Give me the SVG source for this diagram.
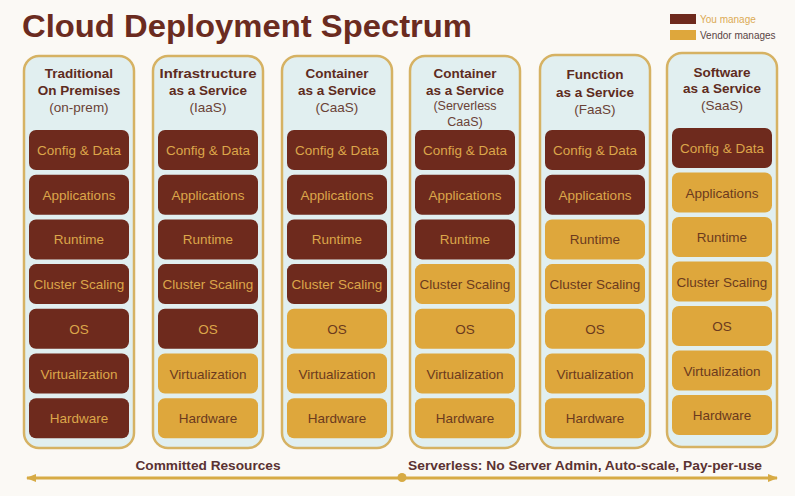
<svg xmlns="http://www.w3.org/2000/svg" width="795" height="496" viewBox="0 0 795 496">
<defs>
<style>
text{font-family:"Liberation Sans",Arial,sans-serif}
.col{fill:#e1eff0;stroke:#d6b263;stroke-width:2.5}
.you{fill:#6e2a1d}
.ven{fill:#dea73c}
.ly{fill:#dca64a;font-size:13.5px;text-anchor:middle}
.lv{fill:#6b3a1e;font-size:13.5px;text-anchor:middle}
.h{fill:#5e2b20;font-size:13.5px;font-weight:bold;text-anchor:middle}
.s{fill:#6a4236;font-size:13.5px;text-anchor:middle}
.s2{fill:#6a4236;font-size:12.5px;text-anchor:middle}
.arr{stroke:#d7ab45;stroke-width:3;fill:none}
.foot{fill:#5a3232;font-size:13.5px;font-weight:bold;text-anchor:middle}
</style>
<marker id="ah" markerWidth="10" markerHeight="8" refX="9" refY="4" orient="auto-start-reverse" markerUnits="userSpaceOnUse">
<path d="M0,0 L10,4 L0,8 Z" fill="#d7ab45"/>
</marker>
</defs>
<rect width="795" height="496" fill="#fbf9f5"/>
<text x="22" y="37" font-size="32" font-weight="bold" fill="#6b2b20" textLength="450" lengthAdjust="spacingAndGlyphs">Cloud Deployment Spectrum</text>
<g id="legend">
<rect x="670" y="14" width="26" height="10" class="you"/>
<text x="700" y="23" font-size="10" fill="#dcab55">You manage</text>
<rect x="670" y="30" width="26" height="10" class="ven"/>
<text x="700" y="38.5" font-size="10" fill="#5a4444">Vendor manages</text>
</g>

<g id="col-onprem">
<rect class="col" x="24" y="56" width="110" height="392" rx="15"/>
<text class="h" x="79" y="78">Traditional</text>
<text class="h" x="79" y="95">On Premises</text>
<text class="s" x="79" y="112">(on-prem)</text>
<rect class="you" x="29" y="130" width="100" height="40" rx="7"/><text class="ly" x="79" y="155">Config &amp; Data</text>
<rect class="you" x="29" y="174.7" width="100" height="40" rx="7"/><text class="ly" x="79" y="199.7">Applications</text>
<rect class="you" x="29" y="219.4" width="100" height="40" rx="7"/><text class="ly" x="79" y="244.4">Runtime</text>
<rect class="you" x="29" y="264.1" width="100" height="40" rx="7"/><text class="ly" x="79" y="289.1">Cluster Scaling</text>
<rect class="you" x="29" y="308.8" width="100" height="40" rx="7"/><text class="ly" x="79" y="333.8">OS</text>
<rect class="you" x="29" y="353.5" width="100" height="40" rx="7"/><text class="ly" x="79" y="378.5">Virtualization</text>
<rect class="you" x="29" y="398.2" width="100" height="40" rx="7"/><text class="ly" x="79" y="423.2">Hardware</text>
</g>

<g id="col-iaas">
<rect class="col" x="153" y="56" width="110" height="392" rx="15"/>
<text class="h" x="208" y="78" textLength="97" lengthAdjust="spacingAndGlyphs">Infrastructure</text>
<text class="h" x="208" y="95">as a Service</text>
<text class="s" x="208" y="112">(IaaS)</text>
<rect class="you" x="158" y="130" width="100" height="40" rx="7"/><text class="ly" x="208" y="155">Config &amp; Data</text>
<rect class="you" x="158" y="174.7" width="100" height="40" rx="7"/><text class="ly" x="208" y="199.7">Applications</text>
<rect class="you" x="158" y="219.4" width="100" height="40" rx="7"/><text class="ly" x="208" y="244.4">Runtime</text>
<rect class="you" x="158" y="264.1" width="100" height="40" rx="7"/><text class="ly" x="208" y="289.1">Cluster Scaling</text>
<rect class="you" x="158" y="308.8" width="100" height="40" rx="7"/><text class="ly" x="208" y="333.8">OS</text>
<rect class="ven" x="158" y="353.5" width="100" height="40" rx="7"/><text class="lv" x="208" y="378.5">Virtualization</text>
<rect class="ven" x="158" y="398.2" width="100" height="40" rx="7"/><text class="lv" x="208" y="423.2">Hardware</text>
</g>

<g id="col-caas">
<rect class="col" x="282" y="56" width="110" height="392" rx="15"/>
<text class="h" x="337" y="78">Container</text>
<text class="h" x="337" y="95">as a Service</text>
<text class="s" x="337" y="112">(CaaS)</text>
<rect class="you" x="287" y="130" width="100" height="40" rx="7"/><text class="ly" x="337" y="155">Config &amp; Data</text>
<rect class="you" x="287" y="174.7" width="100" height="40" rx="7"/><text class="ly" x="337" y="199.7">Applications</text>
<rect class="you" x="287" y="219.4" width="100" height="40" rx="7"/><text class="ly" x="337" y="244.4">Runtime</text>
<rect class="you" x="287" y="264.1" width="100" height="40" rx="7"/><text class="ly" x="337" y="289.1">Cluster Scaling</text>
<rect class="ven" x="287" y="308.8" width="100" height="40" rx="7"/><text class="lv" x="337" y="333.8">OS</text>
<rect class="ven" x="287" y="353.5" width="100" height="40" rx="7"/><text class="lv" x="337" y="378.5">Virtualization</text>
<rect class="ven" x="287" y="398.2" width="100" height="40" rx="7"/><text class="lv" x="337" y="423.2">Hardware</text>
</g>

<g id="col-serverless-caas">
<rect class="col" x="410" y="56" width="110" height="392" rx="15"/>
<text class="h" x="465" y="78">Container</text>
<text class="h" x="465" y="95">as a Service</text>
<text class="s2" x="465" y="110">(Serverless</text>
<text class="s2" x="465" y="126">CaaS)</text>
<rect class="you" x="415" y="130" width="100" height="40" rx="7"/><text class="ly" x="465" y="155">Config &amp; Data</text>
<rect class="you" x="415" y="174.7" width="100" height="40" rx="7"/><text class="ly" x="465" y="199.7">Applications</text>
<rect class="you" x="415" y="219.4" width="100" height="40" rx="7"/><text class="ly" x="465" y="244.4">Runtime</text>
<rect class="ven" x="415" y="264.1" width="100" height="40" rx="7"/><text class="lv" x="465" y="289.1">Cluster Scaling</text>
<rect class="ven" x="415" y="308.8" width="100" height="40" rx="7"/><text class="lv" x="465" y="333.8">OS</text>
<rect class="ven" x="415" y="353.5" width="100" height="40" rx="7"/><text class="lv" x="465" y="378.5">Virtualization</text>
<rect class="ven" x="415" y="398.2" width="100" height="40" rx="7"/><text class="lv" x="465" y="423.2">Hardware</text>
</g>

<g id="col-faas">
<rect class="col" x="540" y="55" width="110" height="393" rx="15"/>
<text class="h" x="595" y="79">Function</text>
<text class="h" x="595" y="97">as a Service</text>
<text class="s" x="595" y="114">(FaaS)</text>
<rect class="you" x="545" y="130" width="100" height="40" rx="7"/><text class="ly" x="595" y="155">Config &amp; Data</text>
<rect class="you" x="545" y="174.7" width="100" height="40" rx="7"/><text class="ly" x="595" y="199.7">Applications</text>
<rect class="ven" x="545" y="219.4" width="100" height="40" rx="7"/><text class="lv" x="595" y="244.4">Runtime</text>
<rect class="ven" x="545" y="264.1" width="100" height="40" rx="7"/><text class="lv" x="595" y="289.1">Cluster Scaling</text>
<rect class="ven" x="545" y="308.8" width="100" height="40" rx="7"/><text class="lv" x="595" y="333.8">OS</text>
<rect class="ven" x="545" y="353.5" width="100" height="40" rx="7"/><text class="lv" x="595" y="378.5">Virtualization</text>
<rect class="ven" x="545" y="398.2" width="100" height="40" rx="7"/><text class="lv" x="595" y="423.2">Hardware</text>
</g>

<g id="col-saas">
<rect class="col" x="667" y="53" width="110" height="394" rx="15"/>
<text class="h" x="722" y="77">Software</text>
<text class="h" x="722" y="93">as a Service</text>
<text class="s" x="722" y="110">(SaaS)</text>
<rect class="you" x="672" y="128" width="100" height="40" rx="7"/><text class="ly" x="722" y="153">Config &amp; Data</text>
<rect class="ven" x="672" y="172.5" width="100" height="40" rx="7"/><text class="lv" x="722" y="197.5">Applications</text>
<rect class="ven" x="672" y="217" width="100" height="40" rx="7"/><text class="lv" x="722" y="242">Runtime</text>
<rect class="ven" x="672" y="261.5" width="100" height="40" rx="7"/><text class="lv" x="722" y="286.5">Cluster Scaling</text>
<rect class="ven" x="672" y="306" width="100" height="40" rx="7"/><text class="lv" x="722" y="331">OS</text>
<rect class="ven" x="672" y="350.5" width="100" height="40" rx="7"/><text class="lv" x="722" y="375.5">Virtualization</text>
<rect class="ven" x="672" y="395" width="100" height="40" rx="7"/><text class="lv" x="722" y="420">Hardware</text>
</g>

<g id="connectors">
<line class="arr" x1="402" y1="478" x2="27" y2="478" marker-end="url(#ah)"/>
<line class="arr" x1="402" y1="478" x2="777" y2="478" marker-end="url(#ah)"/>
<circle cx="402" cy="477.5" r="4.5" fill="#d7ab45"/>
</g>
<text class="foot" x="208" y="470" textLength="145" lengthAdjust="spacingAndGlyphs">Committed Resources</text>
<text class="foot" x="585" y="470" textLength="354" lengthAdjust="spacingAndGlyphs">Serverless: No Server Admin, Auto-scale, Pay-per-use</text>
</svg>
